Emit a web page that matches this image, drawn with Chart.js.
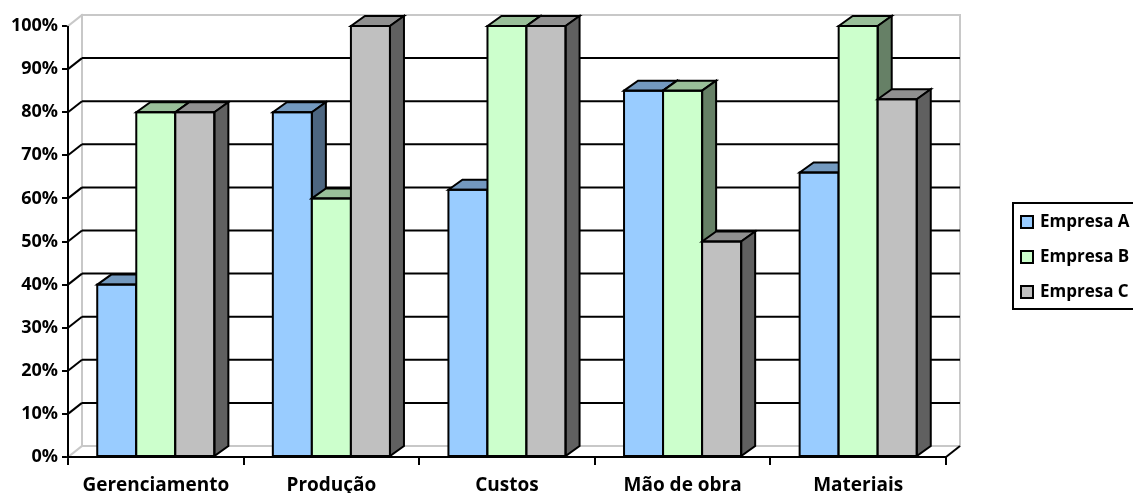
<!DOCTYPE html>
<html><head><meta charset="utf-8">
<script src="https://cdn.jsdelivr.net/npm/chart.js@4"></script>
<style>html,body{margin:0;padding:0;background:#fff}</style>
</head><body>
<canvas id="c" width="1133" height="493"></canvas>
<script>
/* 3D clustered bars - Empresa A/B/C by área */
const CATEGORIES=["Gerenciamento","Produção","Custos","Mão de obra","Materiais"];
const SERIES_NAMES=["Empresa A","Empresa B","Empresa C"];
const EMPRESA_A=[40,80,62,85,66];
const EMPRESA_B=[80,60,100,85,100];
const EMPRESA_C=[80,100,100,50,83];
const Y_TICKS=[0,10,20,30,40,50,60,70,80,90,100];

const FRONT=["#99CCFF","#CCFFCC","#C0C0C0"];
const TOPC=["#7399BF","#99BF99","#909090"];
const SIDE=["#4D6680","#668066","#606060"];
const DX=14, DY=10;   // bar depth
const WX=14, WY=11;   // wall depth

const line=(ctx,x1,y1,x2,y2)=>{ctx.beginPath();ctx.moveTo(x1,y1);ctx.lineTo(x2,y2);ctx.stroke();};
const poly=(ctx,pts,fill)=>{ctx.beginPath();ctx.moveTo(pts[0][0],pts[0][1]);pts.slice(1).forEach(p=>ctx.lineTo(p[0],p[1]));ctx.closePath();ctx.fillStyle=fill;ctx.fill();ctx.stroke();};

const walls={
  id:"walls",
  beforeDatasetsDraw(chart){
    const ctx=chart.ctx,{left,right,top,bottom}=chart.chartArea,y=chart.scales.y;
    ctx.save();ctx.lineWidth=2;ctx.lineCap="square";
    ctx.strokeStyle="#C8C8C8";
    line(ctx,left+WX,top-WY,right+WX,top-WY);
    line(ctx,left+WX,top-WY,left+WX,bottom-WY);
    line(ctx,right+WX,top-WY,right+WX,bottom-WY);
    line(ctx,left+WX,bottom-WY,right+WX,bottom-WY);
    line(ctx,left,bottom,left+WX,bottom-WY);
    line(ctx,left,top,left+WX,top-WY);
    ctx.strokeStyle="#000";ctx.lineCap="butt";
    Y_TICKS.filter(v=>v>0&&v<100).forEach(v=>{
      const py=y.getPixelForValue(v);
      line(ctx,left,py,left+WX,py-WY);
      line(ctx,left+WX,py-WY,right+WX,py-WY);
    });
    line(ctx,right,bottom,right+WX,bottom-WY);
    ctx.restore();
  },
  afterDatasetsDraw(chart){
    const ctx=chart.ctx;
    ctx.save();ctx.lineWidth=2;ctx.strokeStyle="#000";ctx.lineJoin="miter";
    CATEGORIES.forEach((c,i)=>{
      SERIES_NAMES.forEach((s,d)=>{
        const el=chart.getDatasetMeta(d).data[i];
        el.draw(ctx);
        const l=el.x-el.width/2,r=el.x+el.width/2,t=el.y,b=el.base;
        poly(ctx,[[l,t],[l+DX,t-DY],[r+DX,t-DY],[r,t]],TOPC[d]);
        poly(ctx,[[r,t],[r+DX,t-DY],[r+DX,b-DY],[r,b]],SIDE[d]);
        ctx.strokeRect(l,t,r-l,b-t);
      });
    });
    ctx.restore();
  },
  afterDraw(chart){
    const ctx=chart.ctx,{left,right,top,bottom}=chart.chartArea;
    ctx.save();ctx.lineWidth=2;ctx.strokeStyle="#000";
    line(ctx,left,top,left,bottom);
    line(ctx,left-1,bottom,right,bottom);
    // legend
    const lx=right+67,ly=203;
    ctx.strokeRect(lx,ly,200,106);
    ctx.font="bold 17px 'Open Sans'";ctx.textBaseline="middle";
    SERIES_NAMES.forEach((n,d)=>{
      const cy=ly+19+d*35;
      ctx.fillStyle=FRONT[d];ctx.fillRect(lx+8,cy-6,12,12);ctx.strokeRect(lx+8,cy-6,12,12);
      ctx.fillStyle="#000";ctx.fillText(n,lx+27,cy);
    });
    ctx.restore();
  }
};

new Chart(document.getElementById("c"),{
  type:"bar",
  data:{labels:CATEGORIES,datasets:[
    {label:SERIES_NAMES[0],data:EMPRESA_A,backgroundColor:FRONT[0]},
    {label:SERIES_NAMES[1],data:EMPRESA_B,backgroundColor:FRONT[1]},
    {label:SERIES_NAMES[2],data:EMPRESA_C,backgroundColor:FRONT[2]}
  ]},
  options:{
    responsive:false,animation:false,
    layout:{padding:{left:0,right:187,top:26,bottom:0}},
    datasets:{bar:{categoryPercentage:0.667,barPercentage:1,borderWidth:0,borderSkipped:false}},
    plugins:{legend:{display:false},tooltip:{enabled:false}},
    scales:{
      x:{grid:{drawOnChartArea:false,tickLength:8,color:"#000",lineWidth:2,offset:true},border:{display:false},
         ticks:{font:{family:"Open Sans",weight:"bold",size:19},color:"#000",padding:9,maxRotation:0},afterFit(s){s.height=36;}},
      y:{min:0,max:100,grid:{drawOnChartArea:false,tickLength:6,color:"#000",lineWidth:2},border:{display:false},
         ticks:{stepSize:10,font:{family:"Open Sans",weight:"bold",size:18},color:"#000",padding:4,callback:v=>v+"%"},afterFit(s){s.width=68;}}
    }
  },
  plugins:[walls]
});
</script>
</body></html>
